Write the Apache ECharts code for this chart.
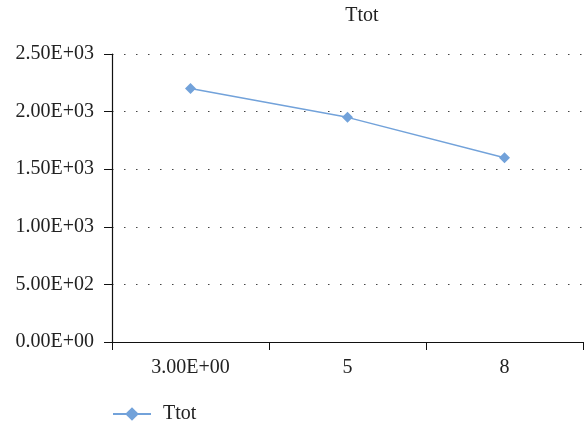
<!DOCTYPE html>
<html>
<head>
<meta charset="utf-8">
<script src="https://cdn.jsdelivr.net/npm/echarts@6/dist/echarts.min.js"></script>
<style>html,body{margin:0;padding:0;background:#fff}#c{width:586px;height:424px}</style>
</head>
<body>
<div id="c"></div>
<script>
const categories = ['3.00E+00', '5', '8'];
const ttotValues = [2200, 1950, 1600];
const yTickLabels = ['0.00E+00', '5.00E+02', '1.00E+03', '1.50E+03', '2.00E+03', '2.50E+03'];
const seriesName = 'Ttot';

const FONT = '"Liberation Serif", "Times New Roman", serif';
const chart = echarts.init(document.getElementById('c'), null, {renderer: 'canvas'});
chart.setOption({
  animation: false,
  backgroundColor: '#fff',
  title: {
    text: seriesName, left: 357, top: 1, textAlign: 'center',
    textStyle: {fontFamily: FONT, fontSize: 20, fontWeight: 'normal', color: '#222'}
  },
  legend: {
    left: 112, top: 404, padding: 0, itemWidth: 38, itemHeight: 17, itemGap: 10,
    data: [seriesName],
    textStyle: {fontFamily: FONT, fontSize: 20, color: '#222', padding: [0, 0, 0, 7]}
  },
  grid: {left: 112, right: 3, top: 54, bottom: 82, containLabel: false},
  xAxis: {
    type: 'category', data: categories, boundaryGap: true,
    axisLine: {lineStyle: {color: '#111', width: 1.2}},
    axisTick: {show: true, length: 8, inside: false, alignWithLabel: false, lineStyle: {color: '#111'}},
    axisLabel: {fontFamily: FONT, fontSize: 20, color: '#222', margin: 16},
    splitLine: {show: false}
  },
  yAxis: {
    type: 'value', min: 0, max: 2500, interval: 500,
    axisLine: {show: true, lineStyle: {color: '#111', width: 1.2}},
    axisTick: {show: true, length: 8, lineStyle: {color: '#111'}},
    axisLabel: {
      fontFamily: FONT, fontSize: 20, color: '#222', margin: 18,
      formatter: v => yTickLabels[Math.round(v / 500)]
    },
    splitLine: {show: true, lineStyle: {color: '#444', width: 1.2, type: [1.5, 10.5]}}
  },
  series: [{
    name: seriesName, type: 'line', data: ttotValues,
    symbol: 'diamond', symbolSize: 11,
    lineStyle: {color: '#72a2da', width: 1.5},
    itemStyle: {color: '#72a2da'}
  }]
});
</script>
</body>
</html>
